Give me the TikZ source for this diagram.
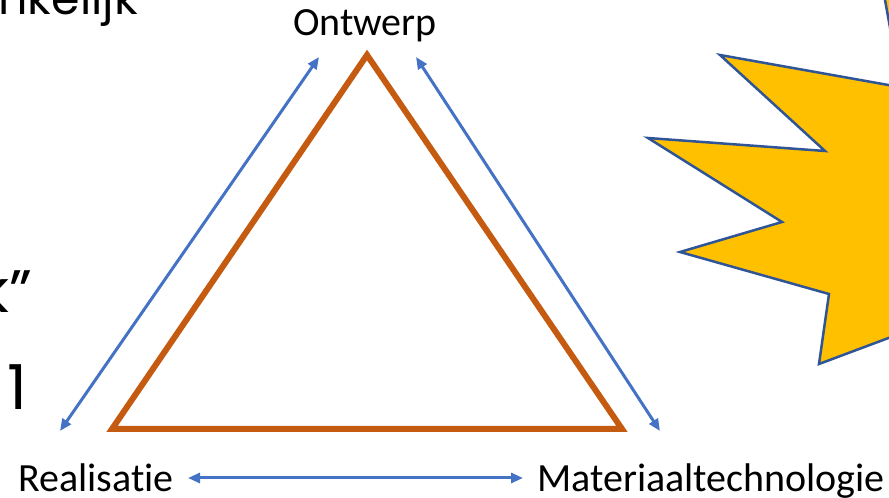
\documentclass[tikz,border=0pt]{standalone}
\usepackage{fontspec}
\setmainfont{Carlito}[Ligatures=NoCommon]
\newfontfamily\geofont{Poppins}
\usetikzlibrary{arrows.meta}
\definecolor{triorange}{HTML}{C55A11}
\definecolor{arrblue}{HTML}{4472C4}
\definecolor{starfill}{HTML}{FFC000}
\definecolor{starline}{HTML}{2F5597}
\tikzset{
  lbl/.style={inner sep=0pt, font=\fontsize{40}{42}\selectfont},
  frag/.style={inner sep=0pt, font=\geofont},
  dblarrow/.style={arrblue, line width=3pt, {Triangle[length=12pt,width=10pt]}-{Triangle[length=12pt,width=10pt]}},
  tri/.style={triorange, line width=6pt, line join=miter},
  star/.style={fill=starfill, draw=starline, line width=2.5pt, line join=miter}
}
\begin{document}
\begin{tikzpicture}[x=1pt,y=1pt]
\useasboundingbox (0,0) rectangle (889,498);
\clip (0,0) rectangle (889,498);
% star (partly outside the slide view)
\draw[star] (950,402) -- (720,443) -- (825,347) -- (648,360) -- (782,276) -- (680,246) -- (829,204) -- (819,134) -- (950,183) -- cycle;
\draw[star] (883,509) -- (893,454) -- (960,454) -- (960,509) -- cycle;
% cut-off slide text on the left
\node[frag, anchor=base east, font=\geofont\fontsize{46}{48}\selectfont] (t1) at (138,483) {nkelijk};
\node[frag, anchor=base east, font=\geofont\fontsize{60}{62}\selectfont] (t2) at (32,185) {k”};
\node[frag, anchor=base east, font=\geofont\fontsize{62}{64}\selectfont] (t3) at (28,88) {1};
% triangle
\coordinate (apex) at (367,443);
\coordinate (bl) at (112,69);
\coordinate (br) at (622,69);
\draw[tri] (apex) -- (bl) -- (br) -- cycle;
% labels
\node[lbl, anchor=base] (ontwerp) at (365,462) {Ontwerp};
\node[lbl, anchor=base west] (real) at (18,6) {Realisatie};
\node[lbl, anchor=base west] (mat) at (537,6) {Materiaaltechnologie};
% arrow ends
\coordinate (l1) at (319,441);
\coordinate (l2) at (60,67);
\coordinate (r1) at (416,441);
\coordinate (r2) at (660,67);
\coordinate (b1) at (188,20);
\coordinate (b2) at (523,20);
\draw[dblarrow] (l1) -- (l2);
\draw[dblarrow] (r1) -- (r2);
\draw[dblarrow] (b1) -- (b2);
\end{tikzpicture}
\end{document}
